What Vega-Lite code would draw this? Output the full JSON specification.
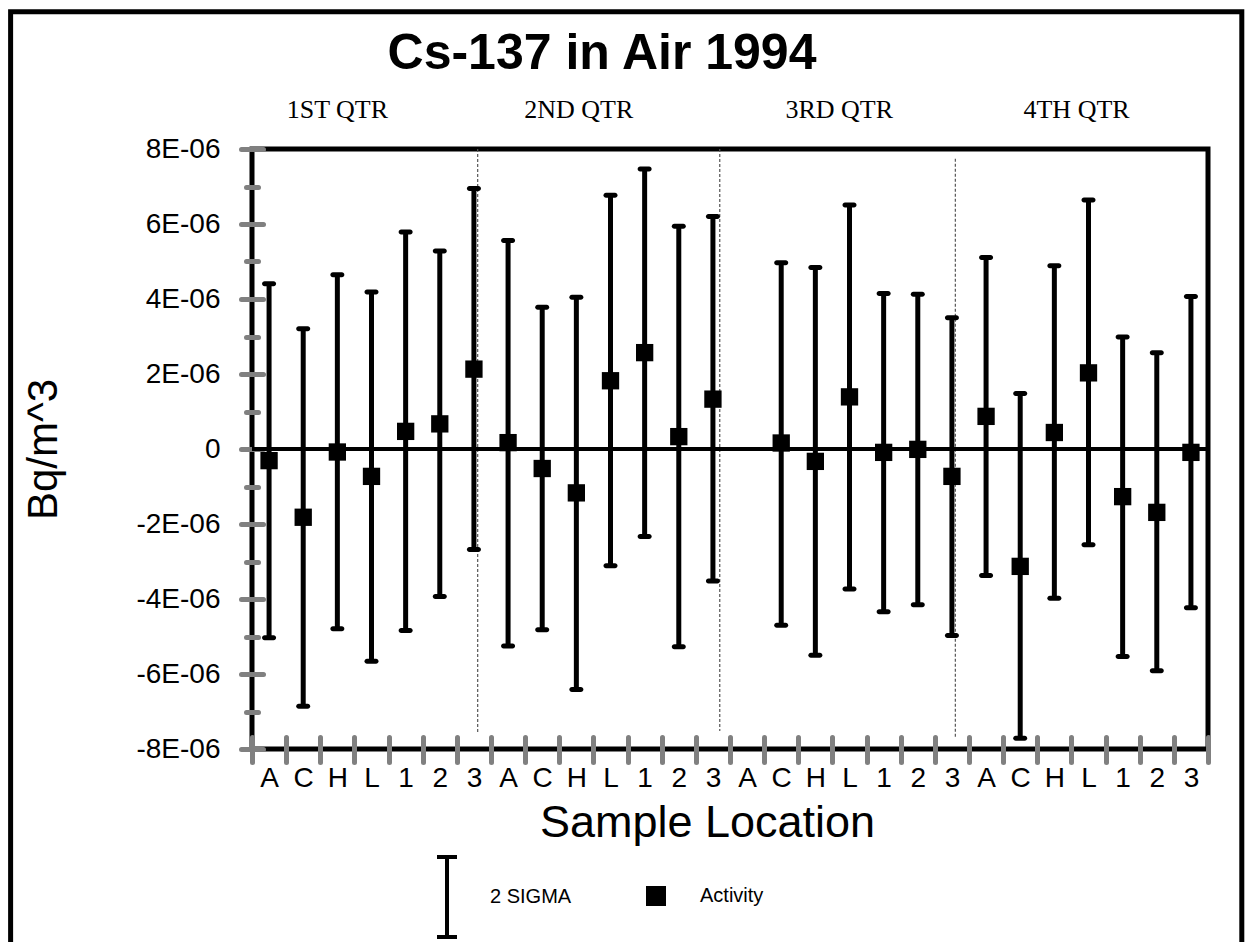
{
  "$schema": "https://vega.github.io/schema/vega-lite/v6.json",
  "width": 956,
  "height": 600,
  "autosize": {"type": "none"},
  "padding": {"left": 252, "top": 149, "right": 40, "bottom": 193},
  "background": "white",
  "title": {
    "text": "Cs-137 in Air 1994",
    "font": "Liberation Sans",
    "fontSize": 50,
    "fontWeight": "bold",
    "color": "black",
    "anchor": "middle",
    "frame": "group",
    "dx": -128,
    "offset": -70
  },
  "config": {
    "view": {"stroke": "black", "strokeWidth": 5},
    "font": "Liberation Sans",
    "axis": {
      "labelColor": "black",
      "titleColor": "black",
      "labelFont": "Liberation Sans",
      "titleFont": "Liberation Sans",
      "titleFontWeight": "normal",
      "grid": false,
      "labelOverlap": false,
      "labelFlush": false,
      "labelBound": false,
      "tickColor": "#808080",
      "tickWidth": 5,
      "tickCap": "round",
      "domain": false,
      "zindex": 1
    },
    "legend": {
      "labelFontSize": 20,
      "labelColor": "black",
      "labelFont": "Liberation Sans",
      "padding": 0
    }
  },
  "datasets": {
    "points": [
      {"idx": 1, "qtr": "1ST QTR", "site": "A", "act": -3.1e-7, "lo": -5.03e-6, "hi": 4.41e-6},
      {"idx": 2, "qtr": "1ST QTR", "site": "C", "act": -1.82e-6, "lo": -6.86e-6, "hi": 3.21e-6},
      {"idx": 3, "qtr": "1ST QTR", "site": "H", "act": -8e-8, "lo": -4.79e-6, "hi": 4.65e-6},
      {"idx": 4, "qtr": "1ST QTR", "site": "L", "act": -7.3e-7, "lo": -5.66e-6, "hi": 4.19e-6},
      {"idx": 5, "qtr": "1ST QTR", "site": "1", "act": 4.7e-7, "lo": -4.84e-6, "hi": 5.79e-6},
      {"idx": 6, "qtr": "1ST QTR", "site": "2", "act": 6.7e-7, "lo": -3.93e-6, "hi": 5.28e-6},
      {"idx": 7, "qtr": "1ST QTR", "site": "3", "act": 2.13e-6, "lo": -2.68e-6, "hi": 6.95e-6},
      {"idx": 8, "qtr": "2ND QTR", "site": "A", "act": 1.7e-7, "lo": -5.25e-6, "hi": 5.56e-6},
      {"idx": 9, "qtr": "2ND QTR", "site": "C", "act": -5.2e-7, "lo": -4.82e-6, "hi": 3.78e-6},
      {"idx": 10, "qtr": "2ND QTR", "site": "H", "act": -1.17e-6, "lo": -6.41e-6, "hi": 4.05e-6},
      {"idx": 11, "qtr": "2ND QTR", "site": "L", "act": 1.82e-6, "lo": -3.11e-6, "hi": 6.77e-6},
      {"idx": 12, "qtr": "2ND QTR", "site": "1", "act": 2.57e-6, "lo": -2.33e-6, "hi": 7.47e-6},
      {"idx": 13, "qtr": "2ND QTR", "site": "2", "act": 3.3e-7, "lo": -5.27e-6, "hi": 5.94e-6},
      {"idx": 14, "qtr": "2ND QTR", "site": "3", "act": 1.33e-6, "lo": -3.52e-6, "hi": 6.2e-6},
      {"idx": 16, "qtr": "3RD QTR", "site": "C", "act": 1.6e-7, "lo": -4.7e-6, "hi": 4.97e-6},
      {"idx": 17, "qtr": "3RD QTR", "site": "H", "act": -3.3e-7, "lo": -5.5e-6, "hi": 4.84e-6},
      {"idx": 18, "qtr": "3RD QTR", "site": "L", "act": 1.39e-6, "lo": -3.73e-6, "hi": 6.51e-6},
      {"idx": 19, "qtr": "3RD QTR", "site": "1", "act": -9e-8, "lo": -4.34e-6, "hi": 4.15e-6},
      {"idx": 20, "qtr": "3RD QTR", "site": "2", "act": -1e-8, "lo": -4.15e-6, "hi": 4.13e-6},
      {"idx": 21, "qtr": "3RD QTR", "site": "3", "act": -7.3e-7, "lo": -4.97e-6, "hi": 3.5e-6},
      {"idx": 22, "qtr": "4TH QTR", "site": "A", "act": 8.7e-7, "lo": -3.37e-6, "hi": 5.11e-6},
      {"idx": 23, "qtr": "4TH QTR", "site": "C", "act": -3.13e-6, "lo": -7.71e-6, "hi": 1.48e-6},
      {"idx": 24, "qtr": "4TH QTR", "site": "H", "act": 4.4e-7, "lo": -3.98e-6, "hi": 4.89e-6},
      {"idx": 25, "qtr": "4TH QTR", "site": "L", "act": 2.03e-6, "lo": -2.55e-6, "hi": 6.64e-6},
      {"idx": 26, "qtr": "4TH QTR", "site": "1", "act": -1.27e-6, "lo": -5.53e-6, "hi": 2.99e-6},
      {"idx": 27, "qtr": "4TH QTR", "site": "2", "act": -1.69e-6, "lo": -5.91e-6, "hi": 2.57e-6},
      {"idx": 28, "qtr": "4TH QTR", "site": "3", "act": -9e-8, "lo": -4.23e-6, "hi": 4.07e-6}
    ],
    "quarters": [
      {"qtr": "1ST QTR", "at": 3.0},
      {"qtr": "2ND QTR", "at": 10.07},
      {"qtr": "3RD QTR", "at": 17.7},
      {"qtr": "4TH QTR", "at": 24.65}
    ],
    "seps": [
      {"after": 7.11, "top": 8e-6, "bottom": -7.6e-6},
      {"after": 14.2, "top": 8e-6, "bottom": -7.52e-6},
      {"after": 21.1, "top": 7.74e-6, "bottom": -7.68e-6}
    ]
  },
  "layer": [
    {
      "data": {"values": [{}]},
      "mark": {"type": "rect", "filled": false, "color": "black", "strokeWidth": 5},
      "encoding": {
        "x": {"datum": -6.57, "type": "quantitative", "scale": {"domain": [0.5, 28.5], "nice": false, "zero": false}, "axis": null},
        "x2": {"datum": 29.49},
        "y": {"datum": 1.166e-5, "type": "quantitative", "scale": {"domain": [-8e-6, 8e-6], "nice": false, "zero": false}, "axis": null},
        "y2": {"datum": -1.4e-5}
      }
    },
    {
      "data": {"name": "seps"},
      "mark": {"type": "rule", "color": "#555555", "strokeWidth": 1.2, "strokeDash": [3, 2]},
      "encoding": {
        "x": {"field": "after", "type": "quantitative", "scale": {"domain": [0.5, 28.5], "nice": false, "zero": false}, "axis": null},
        "y": {"field": "top", "type": "quantitative", "scale": {"domain": [-8e-6, 8e-6], "nice": false, "zero": false}, "axis": null},
        "y2": {"field": "bottom"}
      }
    },
    {
      "data": {"values": [{}]},
      "mark": {"type": "rule", "color": "black", "strokeWidth": 4},
      "encoding": {
        "y": {"datum": 0, "type": "quantitative", "scale": {"domain": [-8e-6, 8e-6], "nice": false, "zero": false}, "axis": null}
      }
    },
    {
      "data": {"name": "points"},
      "mark": {"type": "rule", "color": "black", "strokeWidth": 5},
      "encoding": {
        "x": {
          "field": "idx", "type": "quantitative",
          "scale": {"domain": [0.5, 28.5], "nice": false, "zero": false},
          "axis": {
            "orient": "bottom",
            "values": [1,2,3,4,5,6,7,8,9,10,11,12,13,14,15,16,17,18,19,20,21,22,23,24,25,26,27,28],
            "labelExpr": "['A','C','H','L','1','2','3'][(datum.value - 1) % 7]",
            "ticks": false,
            "labelFontSize": 28,
            "labelPadding": 15,
            "title": "Sample Location",
            "titleFontSize": 45,
            "titlePadding": 8,
            "titleX": 455
          }
        },
        "y": {
          "field": "lo", "type": "quantitative",
          "scale": {"domain": [-8e-6, 8e-6], "nice": false, "zero": false},
          "axis": {
            "orient": "left",
            "values": [-8e-6, -6e-6, -4e-6, -2e-6, 0, 2e-6, 4e-6, 6e-6, 8e-6],
            "labelExpr": "datum.value == 0 ? '0' : round(datum.value * 1e6) + 'E-06'",
            "offset": -11,
            "tickSize": 22,
            "labelFontSize": 28,
            "labelPadding": 21,
            "title": "Bq/m^3",
            "titleFontSize": 42,
            "titlePadding": 70
          }
        },
        "y2": {"field": "hi"},
        "strokeDash": {
          "datum": "2 SIGMA", "type": "nominal",
          "scale": {"domain": ["2 SIGMA"], "range": [[1, 0]]},
          "legend": {
            "orient": "none", "legendX": 153, "legendY": 706, "title": null,
            "symbolType": "M-0.25,-1H0.25M0,-1V1M-0.25,1H0.25",
            "symbolSize": 6400, "symbolStrokeColor": "black", "symbolStrokeWidth": 4,
            "symbolDash": [1, 0],
            "labelOffset": 1
          }
        }
      }
    },
    {
      "data": {"name": "points"},
      "transform": [{"fold": ["lo", "hi"], "as": ["end", "v"]}],
      "mark": {"type": "tick", "orient": "horizontal", "color": "black", "thickness": 5, "size": 14, "cornerRadius": 2.5, "opacity": 1},
      "encoding": {
        "x": {
          "field": "idx", "type": "quantitative",
          "scale": {"domain": [0.5, 28.5], "nice": false, "zero": false},
          "axis": {
            "orient": "bottom",
            "values": [0.5,1.5,2.5,3.5,4.5,5.5,6.5,7.5,8.5,9.5,10.5,11.5,12.5,13.5,14.5,15.5,16.5,17.5,18.5,19.5,20.5,21.5,22.5,23.5,24.5,25.5,26.5,27.5,28.5],
            "labels": false,
            "offset": -12,
            "tickSize": 25,
            "title": null
          }
        },
        "y": {
          "field": "v", "type": "quantitative",
          "scale": {"domain": [-8e-6, 8e-6], "nice": false, "zero": false},
          "axis": {
            "orient": "left",
            "values": [-7e-6, -5e-6, -3e-6, -1e-6, 1e-6, 3e-6, 5e-6, 7e-6],
            "labels": false,
            "offset": -6,
            "tickSize": 12,
            "title": null
          }
        }
      }
    },
    {
      "data": {"name": "points"},
      "mark": {"type": "point", "filled": true, "color": "black", "opacity": 1, "size": 300},
      "encoding": {
        "x": {"field": "idx", "type": "quantitative", "scale": {"domain": [0.5, 28.5], "nice": false, "zero": false}, "axis": null},
        "y": {"field": "act", "type": "quantitative", "scale": {"domain": [-8e-6, 8e-6], "nice": false, "zero": false}, "axis": null},
        "shape": {
          "datum": "Activity", "type": "nominal",
          "scale": {"domain": ["Activity"], "range": ["square"]},
          "legend": {
            "orient": "none", "legendX": 393, "legendY": 736, "title": null,
            "symbolSize": 400, "symbolFillColor": "black",
            "labelOffset": 33
          }
        }
      }
    },
    {
      "data": {"name": "quarters"},
      "mark": {"type": "text", "font": "Liberation Serif", "fontSize": 26, "color": "black", "baseline": "middle", "align": "center"},
      "encoding": {
        "x": {"field": "at", "type": "quantitative", "scale": {"domain": [0.5, 28.5], "nice": false, "zero": false}, "axis": null},
        "y": {"datum": 9.05e-6, "type": "quantitative", "scale": {"domain": [-8e-6, 8e-6], "nice": false, "zero": false}, "axis": null},
        "text": {"field": "qtr"}
      }
    }
  ],
  "resolve": {"axis": {"x": "independent", "y": "independent"}}
}
